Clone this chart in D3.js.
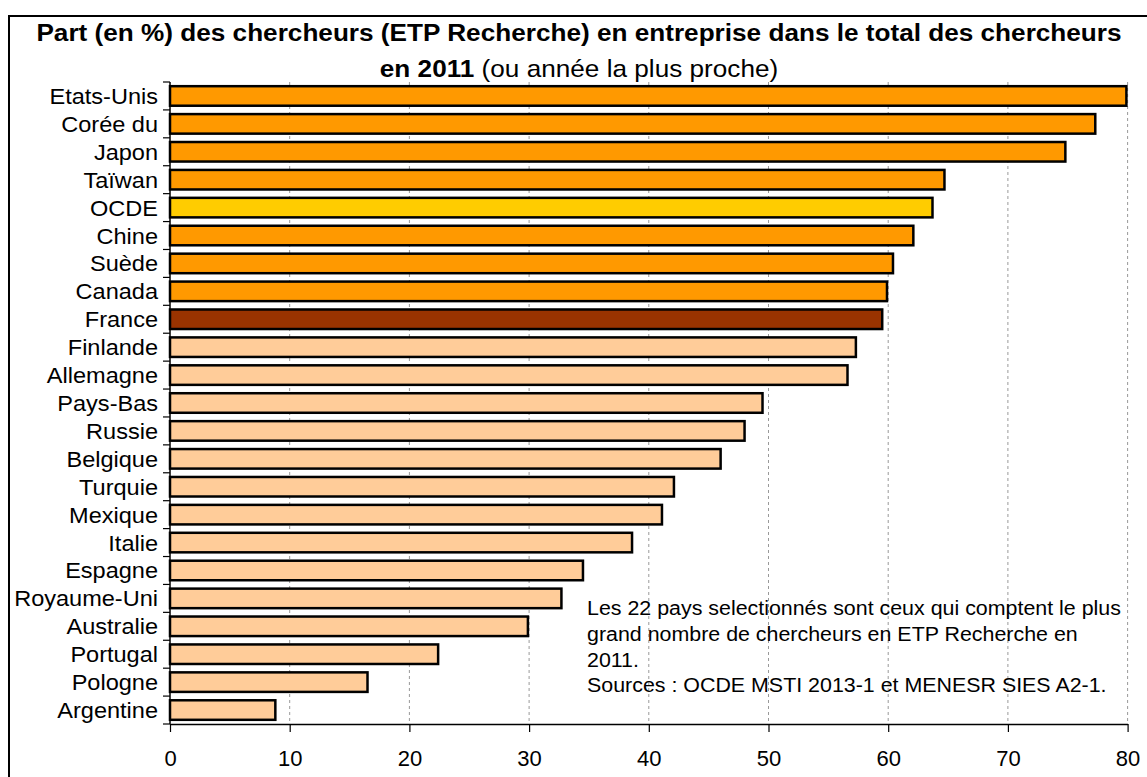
<!DOCTYPE html>
<html><head><meta charset="utf-8">
<script src="https://cdn.jsdelivr.net/npm/d3@7"></script>
<style>html,body{margin:0;padding:0;background:#fff;overflow:hidden}svg{display:block;font-family:Arial,"Liberation Sans",sans-serif}</style>
</head><body>
<svg id="c" width="1147" height="777" viewBox="0 0 1147 777"></svg>
<script>
const categories = ["Etats-Unis","Corée du","Japon","Taïwan","OCDE","Chine","Suède","Canada","France","Finlande","Allemagne","Pays-Bas","Russie","Belgique","Turquie","Mexique","Italie","Espagne","Royaume-Uni","Australie","Portugal","Pologne","Argentine"];
const values = [79.9,77.3,74.8,64.7,63.7,62.1,60.4,59.9,59.5,57.3,56.6,49.5,48.0,46.0,42.1,41.1,38.6,34.5,32.7,29.9,22.4,16.5,8.8];
const groups = ["top","top","top","top","ocde","top","top","top","france","other","other","other","other","other","other","other","other","other","other","other","other","other","other"];
const xTicks = [0,10,20,30,40,50,60,70,80];
const titleLine1 = "Part (en %) des chercheurs (ETP Recherche) en entreprise dans le total des chercheurs";
const titleBold2 = "en 2011";
const titleNormal2 = " (ou année la plus proche)";
const noteLines = ["Les 22 pays selectionnés sont ceux qui comptent le plus","grand nombre de chercheurs en ETP Recherche en","2011.","Sources : OCDE MSTI 2013-1 et MENESR SIES A2-1."];

const colorMap = {top:"#FF9900", ocde:"#FFCC00", france:"#993300", other:"#FFCC99"};
const svg = d3.select("#c");
const mLeft = 170, mRight = 1127.6, mTop = 82, mBottom = 724;

// outer frame
svg.append("path").attr("d","M9,800 L9,16 L1160,16").attr("fill","none")
  .attr("stroke","#000").attr("stroke-width",2);

const x = d3.scaleLinear().domain([0,80]).range([mLeft,mRight]);
const y = d3.scaleBand().domain(categories).range([mTop,mBottom]).paddingInner(0.3).paddingOuter(0.15);

// gridlines
svg.append("g").selectAll("line").data(xTicks.filter(d=>d>0)).join("line")
  .attr("x1",d=>x(d)).attr("x2",d=>x(d)).attr("y1",mTop).attr("y2",mBottom)
  .attr("stroke","#999").attr("stroke-width",1).attr("stroke-dasharray","3,3");

// bars
svg.append("g").selectAll("rect").data(categories).join("rect")
  .attr("x",x(0)).attr("y",d=>y(d)).attr("height",y.bandwidth())
  .attr("width",(d,i)=>x(values[i])-x(0))
  .attr("fill",(d,i)=>colorMap[groups[i]]).attr("stroke","#000").attr("stroke-width",2.5);

// left axis line & boundary ticks
const step = y.step();
const bounds = d3.range(categories.length+1).map(i=>mTop+i*step);
svg.append("line").attr("x1",mLeft).attr("x2",mLeft).attr("y1",mTop).attr("y2",mBottom).attr("stroke","#000").attr("stroke-width",1.5);
svg.append("g").selectAll("line").data(bounds).join("line")
  .attr("x1",mLeft-7).attr("x2",mLeft).attr("y1",d=>d).attr("y2",d=>d).attr("stroke","#000").attr("stroke-width",1.2);

// bottom axis
const xAxis = d3.axisBottom(x).tickValues(xTicks).tickSize(8).tickSizeOuter(0);
const gx = svg.append("g").attr("transform",`translate(0,${mBottom})`).call(xAxis);
gx.select(".domain").attr("stroke","#000").attr("stroke-width",1.5);
gx.selectAll(".tick line").attr("stroke","#000").attr("stroke-width",1.2);
gx.selectAll(".tick text").attr("font-size",22).attr("fill","#000")
  .attr("y",0).attr("dy",null)
  .attr("transform",`translate(0,42)`)
  .attr("font-family","Arial, 'Liberation Sans', sans-serif");

// category labels
svg.append("g").selectAll("text").data(categories).join("text")
  .attr("transform",d=>`translate(158,${y(d)+y.bandwidth()/2+8}) scale(1.07,1)`)
  .attr("text-anchor","end").attr("font-size",22).attr("fill","#000").text(d=>d);

// title
svg.append("text").attr("transform",`translate(579,41) scale(1.09,1)`).attr("text-anchor","middle")
  .attr("font-size",24).attr("font-weight","bold").attr("fill","#000").text(titleLine1);
const t2 = svg.append("text").attr("transform",`translate(579,77) scale(1.09,1)`).attr("text-anchor","middle")
  .attr("font-size",24).attr("fill","#000");
t2.append("tspan").attr("font-weight","bold").text(titleBold2);
t2.append("tspan").text(titleNormal2);

// note
const note = svg.append("g");
noteLines.forEach((l,i)=>{
  note.append("text").attr("transform",`translate(587,${615+i*25.8}) scale(1.07,1)`)
    .attr("font-size",20).attr("fill","#000").text(l);
});
</script>
</body></html>
